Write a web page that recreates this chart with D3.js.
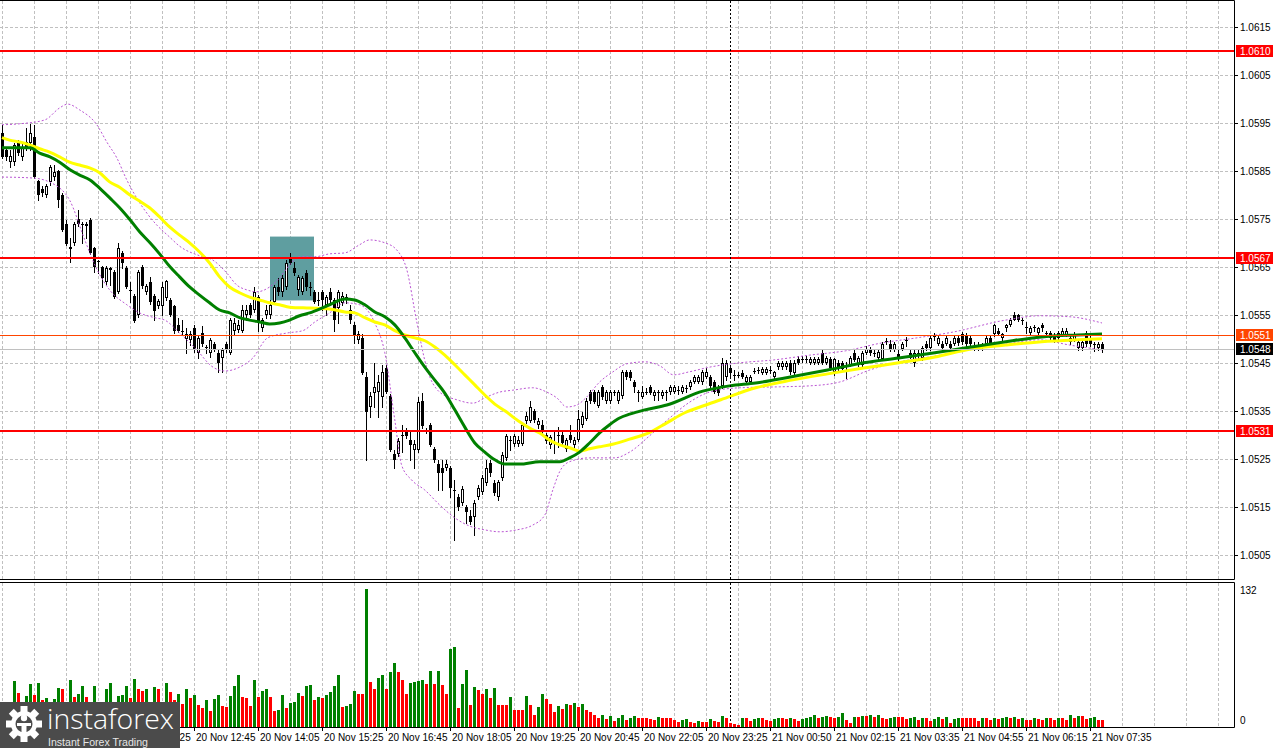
<!DOCTYPE html>
<html>
<head>
<meta charset="utf-8">
<script src="https://cdn.jsdelivr.net/npm/d3@7"></script>
<style>
  body { margin: 0; background: #fff; }
  svg { display: block; }
  text { font-family: 'Liberation Sans', Arial, sans-serif; font-size: 10px; }
</style>
</head>
<body>
<svg id="chart" width="1275" height="748"></svg>
<script>
// EURUSD M5, 20 Nov 08:45 - 21 Nov 07:45
var opens = [
  1.05930,1.05895,1.05869,1.05869,1.05909,1.05880,1.05911,1.05909,1.05922,1.05830,
  1.05813,1.05801,1.05828,1.05838,1.05851,1.05801,1.05740,1.05692,1.05701,1.05751,
  1.05740,1.05740,1.05749,1.05690,1.05663,1.05651,1.05620,1.05649,1.05640,1.05599,
  1.05680,1.05649,1.05603,1.05590,1.05551,1.05651,1.05599,1.05620,1.05590,1.05570,
  1.05570,1.05586,1.05582,1.05570,1.05530,1.05518,1.05501,1.05499,1.05524,1.05472,
  1.05513,1.05484,1.05472,1.05490,1.05472,1.05461,1.05490,1.05472,1.05518,1.05520,
  1.05518,1.05551,1.05572,1.05561,1.05588,1.05524,1.05551,1.05551,1.05578,1.05609,
  1.05599,1.05609,1.05672,1.05649,1.05603,1.05599,1.05638,1.05609,1.05599,1.05582,
  1.05599,1.05572,1.05599,1.05582,1.05565,1.05576,1.05588,1.05561,1.05530,1.05499,
  1.05503,1.05422,1.05359,1.05388,1.05390,1.05380,1.05440,1.05382,1.05261,1.05261,
  1.05301,1.05311,1.05290,1.05269,1.05269,1.05371,1.05311,1.05322,1.05272,1.05240,
  1.05232,1.05232,1.05232,1.05186,1.05172,1.05159,1.05151,1.05132,1.05130,1.05172,
  1.05182,1.05201,1.05242,1.05201,1.05172,1.05211,1.05253,1.05290,1.05282,1.05282,
  1.05282,1.05330,1.05330,1.05351,1.05322,1.05322,1.05301,1.05280,1.05286,1.05299,
  1.05301,1.05272,1.05301,1.05280,1.05290,1.05322,1.05334,1.05390,1.05390,1.05361,
  1.05401,1.05371,1.05371,1.05390,1.05371,1.05382,1.05432,1.05432,1.05411,1.05390,
  1.05380,1.05389,1.05401,1.05382,1.05390,1.05382,1.05390,1.05390,1.05390,1.05394,
  1.05390,1.05399,1.05401,1.05411,1.05411,1.05411,1.05422,1.05422,1.05411,1.05401,
  1.05403,1.05422,1.05440,1.05426,1.05426,1.05430,1.05411,1.05411,1.05434,1.05436,
  1.05430,1.05430,1.05436,1.05422,1.05443,1.05443,1.05443,1.05451,1.05430,1.05459,
  1.05459,1.05459,1.05451,1.05451,1.05451,1.05472,1.05451,1.05459,1.05432,1.05451,
  1.05451,1.05445,1.05447,1.05472,1.05447,1.05447,1.05472,1.05478,1.05472,1.05461,
  1.05459,1.05497,1.05490,1.05478,1.05470,1.05480,1.05497,1.05472,1.05451,1.05472,
  1.05461,1.05490,1.05482,1.05507,1.05490,1.05490,1.05490,1.05490,1.05490,1.05503,
  1.05511,1.05509,1.05503,1.05486,1.05486,1.05482,1.05490,1.05503,1.05511,1.05518,
  1.05503,1.05524,1.05530,1.05551,1.05551,1.05540,1.05524,1.05513,1.05524,1.05513,
  1.05530,1.05513,1.05513,1.05509,1.05503,1.05509,1.05509,1.05503,1.05499,1.05482,
  1.05482,1.05513,1.05503,1.05490,1.05482,1.05490
]
var highs = [
  1.05947,1.05901,1.05895,1.05909,1.05915,1.05909,1.05940,1.05949,1.05947,1.05832,
  1.05820,1.05824,1.05863,1.05863,1.05853,1.05805,1.05749,1.05711,1.05745,1.05770,
  1.05745,1.05745,1.05753,1.05692,1.05665,1.05653,1.05653,1.05651,1.05645,1.05701,
  1.05684,1.05653,1.05620,1.05594,1.05645,1.05655,1.05615,1.05630,1.05594,1.05584,
  1.05620,1.05624,1.05586,1.05572,1.05545,1.05540,1.05524,1.05518,1.05530,1.05507,
  1.05528,1.05488,1.05503,1.05495,1.05478,1.05482,1.05495,1.05545,1.05545,1.05540,
  1.05572,1.05572,1.05576,1.05609,1.05592,1.05545,1.05572,1.05582,1.05613,1.05628,
  1.05634,1.05665,1.05680,1.05661,1.05634,1.05632,1.05645,1.05620,1.05603,1.05599,
  1.05603,1.05592,1.05607,1.05586,1.05603,1.05599,1.05594,1.05572,1.05536,1.05518,
  1.05511,1.05432,1.05390,1.05451,1.05426,1.05447,1.05447,1.05386,1.05269,1.05294,
  1.05322,1.05315,1.05307,1.05290,1.05380,1.05388,1.05315,1.05326,1.05276,1.05249,
  1.05249,1.05249,1.05236,1.05207,1.05178,1.05194,1.05155,1.05145,1.05165,1.05196,
  1.05217,1.05249,1.05249,1.05207,1.05207,1.05265,1.05303,1.05299,1.05303,1.05299,
  1.05326,1.05349,1.05371,1.05355,1.05336,1.05332,1.05305,1.05301,1.05311,1.05317,
  1.05307,1.05294,1.05322,1.05297,1.05353,1.05349,1.05378,1.05394,1.05394,1.05394,
  1.05405,1.05394,1.05394,1.05394,1.05394,1.05436,1.05436,1.05436,1.05415,1.05394,
  1.05403,1.05399,1.05405,1.05394,1.05394,1.05394,1.05394,1.05405,1.05405,1.05403,
  1.05405,1.05405,1.05415,1.05426,1.05426,1.05436,1.05440,1.05426,1.05415,1.05405,
  1.05461,1.05457,1.05447,1.05436,1.05432,1.05436,1.05426,1.05426,1.05440,1.05443,
  1.05443,1.05443,1.05445,1.05434,1.05455,1.05455,1.05455,1.05457,1.05457,1.05465,
  1.05465,1.05465,1.05463,1.05463,1.05463,1.05478,1.05465,1.05463,1.05461,1.05457,
  1.05455,1.05453,1.05465,1.05478,1.05465,1.05476,1.05486,1.05484,1.05478,1.05478,
  1.05495,1.05503,1.05499,1.05495,1.05478,1.05495,1.05505,1.05478,1.05478,1.05480,
  1.05486,1.05497,1.05507,1.05513,1.05507,1.05497,1.05507,1.05497,1.05507,1.05509,
  1.05515,1.05513,1.05507,1.05495,1.05495,1.05492,1.05507,1.05507,1.05532,1.05524,
  1.05513,1.05532,1.05545,1.05557,1.05553,1.05545,1.05536,1.05528,1.05530,1.05526,
  1.05534,1.05518,1.05517,1.05513,1.05517,1.05524,1.05524,1.05507,1.05515,1.05499,
  1.05499,1.05518,1.05507,1.05495,1.05495,1.05495
]
var lows = [
  1.05878,1.05874,1.05859,1.05863,1.05884,1.05874,1.05895,1.05895,1.05836,1.05790,
  1.05799,1.05797,1.05822,1.05832,1.05776,1.05726,1.05697,1.05661,1.05697,1.05736,
  1.05701,1.05711,1.05678,1.05640,1.05638,1.05609,1.05615,1.05613,1.05586,1.05597,
  1.05649,1.05607,1.05578,1.05536,1.05547,1.05607,1.05594,1.05574,1.05540,1.05565,
  1.05551,1.05582,1.05549,1.05513,1.05515,1.05509,1.05472,1.05488,1.05474,1.05461,
  1.05486,1.05472,1.05463,1.05476,1.05432,1.05432,1.05474,1.05470,1.05509,1.05515,
  1.05515,1.05540,1.05547,1.05557,1.05518,1.05518,1.05545,1.05545,1.05574,1.05592,
  1.05590,1.05605,1.05657,1.05634,1.05592,1.05594,1.05603,1.05592,1.05576,1.05572,
  1.05561,1.05551,1.05578,1.05518,1.05534,1.05572,1.05576,1.05534,1.05492,1.05492,
  1.05428,1.05249,1.05338,1.05359,1.05338,1.05359,1.05388,1.05267,1.05232,1.05257,
  1.05265,1.05294,1.05249,1.05232,1.05265,1.05315,1.05305,1.05278,1.05245,1.05186,
  1.05186,1.05228,1.05172,1.05082,1.05145,1.05155,1.05117,1.05115,1.05092,1.05167,
  1.05178,1.05196,1.05215,1.05176,1.05165,1.05207,1.05249,1.05269,1.05278,1.05278,
  1.05280,1.05326,1.05328,1.05328,1.05315,1.05301,1.05284,1.05274,1.05263,1.05276,
  1.05280,1.05267,1.05286,1.05276,1.05288,1.05317,1.05332,1.05367,1.05367,1.05359,
  1.05376,1.05367,1.05367,1.05384,1.05367,1.05378,1.05417,1.05415,1.05390,1.05371,
  1.05378,1.05386,1.05386,1.05374,1.05374,1.05378,1.05374,1.05386,1.05388,1.05386,
  1.05388,1.05390,1.05397,1.05409,1.05409,1.05407,1.05419,1.05399,1.05388,1.05384,
  1.05399,1.05415,1.05419,1.05415,1.05422,1.05419,1.05407,1.05407,1.05430,1.05430,
  1.05428,1.05428,1.05430,1.05419,1.05438,1.05438,1.05438,1.05428,1.05426,1.05449,
  1.05453,1.05453,1.05449,1.05449,1.05449,1.05449,1.05449,1.05436,1.05426,1.05436,
  1.05436,1.05419,1.05445,1.05455,1.05445,1.05445,1.05470,1.05467,1.05465,1.05457,
  1.05457,1.05490,1.05476,1.05476,1.05457,1.05478,1.05486,1.05461,1.05445,1.05461,
  1.05457,1.05478,1.05478,1.05499,1.05488,1.05478,1.05488,1.05478,1.05488,1.05488,
  1.05490,1.05486,1.05486,1.05478,1.05478,1.05478,1.05488,1.05488,1.05507,1.05509,
  1.05495,1.05518,1.05528,1.05540,1.05538,1.05532,1.05513,1.05511,1.05517,1.05509,
  1.05518,1.05507,1.05499,1.05495,1.05501,1.05507,1.05507,1.05490,1.05497,1.05478,
  1.05478,1.05486,1.05486,1.05476,1.05478,1.05474
]
var closes = [
  1.05880,1.05880,1.05882,1.05905,1.05888,1.05899,1.05899,1.05930,1.05838,1.05801,
  1.05805,1.05820,1.05859,1.05849,1.05790,1.05728,1.05699,1.05688,1.05740,1.05740,
  1.05738,1.05736,1.05680,1.05651,1.05661,1.05628,1.05649,1.05645,1.05588,1.05690,
  1.05659,1.05609,1.05601,1.05538,1.05640,1.05611,1.05611,1.05578,1.05559,1.05580,
  1.05609,1.05622,1.05551,1.05518,1.05518,1.05516,1.05511,1.05511,1.05478,1.05503,
  1.05490,1.05482,1.05499,1.05480,1.05451,1.05478,1.05478,1.05540,1.05534,1.05530,
  1.05561,1.05561,1.05551,1.05599,1.05534,1.05540,1.05561,1.05572,1.05609,1.05599,
  1.05628,1.05659,1.05659,1.05638,1.05630,1.05628,1.05609,1.05607,1.05578,1.05581,
  1.05582,1.05588,1.05582,1.05540,1.05599,1.05590,1.05584,1.05540,1.05509,1.05511,
  1.05430,1.05349,1.05382,1.05401,1.05411,1.05432,1.05390,1.05269,1.05249,1.05288,
  1.05299,1.05299,1.05280,1.05282,1.05369,1.05320,1.05309,1.05280,1.05249,1.05222,
  1.05222,1.05240,1.05190,1.05184,1.05151,1.05188,1.05140,1.05119,1.05159,1.05190,
  1.05211,1.05232,1.05222,1.05180,1.05203,1.05259,1.05299,1.05288,1.05299,1.05290,
  1.05322,1.05340,1.05359,1.05332,1.05330,1.05309,1.05288,1.05297,1.05284,1.05301,
  1.05284,1.05290,1.05290,1.05290,1.05334,1.05340,1.05371,1.05371,1.05369,1.05390,
  1.05380,1.05390,1.05390,1.05388,1.05390,1.05432,1.05422,1.05419,1.05401,1.05388,
  1.05390,1.05391,1.05388,1.05390,1.05388,1.05390,1.05388,1.05401,1.05401,1.05393,
  1.05401,1.05397,1.05411,1.05422,1.05422,1.05432,1.05432,1.05403,1.05390,1.05388,
  1.05451,1.05451,1.05430,1.05424,1.05425,1.05422,1.05422,1.05422,1.05432,1.05435,
  1.05438,1.05438,1.05435,1.05432,1.05451,1.05451,1.05451,1.05432,1.05451,1.05451,
  1.05458,1.05458,1.05459,1.05459,1.05459,1.05451,1.05461,1.05440,1.05459,1.05440,
  1.05438,1.05447,1.05461,1.05457,1.05461,1.05472,1.05480,1.05472,1.05471,1.05474,
  1.05490,1.05496,1.05478,1.05490,1.05461,1.05490,1.05499,1.05462,1.05472,1.05471,
  1.05482,1.05482,1.05503,1.05506,1.05503,1.05482,1.05503,1.05482,1.05503,1.05492,
  1.05495,1.05490,1.05490,1.05485,1.05485,1.05490,1.05503,1.05492,1.05530,1.05511,
  1.05511,1.05530,1.05540,1.05540,1.05540,1.05541,1.05525,1.05524,1.05525,1.05524,
  1.05524,1.05514,1.05503,1.05499,1.05513,1.05518,1.05518,1.05495,1.05511,1.05495,
  1.05495,1.05490,1.05490,1.05489,1.05490,1.05480
]
var volumes = [
  22,18,24,44,32,22,29,41,30,42, 25,27,20,26,37,36,22,45,28,31,
  39,28,20,39,18,20,36,42,22,29, 30,39,27,46,36,34,36,22,38,36,
  22,42,33,25,31,22,36,27,30,21, 18,25,15,26,30,20,19,29,39,49,
  28,27,20,45,28,34,36,28,15,16, 30,18,23,24,32,29,39,40,25,28,
  27,30,33,39,49,19,20,22,34,31, 31,132,43,36,47,49,36,52,61,52,
  45,31,42,43,44,45,41,53,41,53, 40,31,74,76,18,41,54,21,38,35,
  31,36,27,37,21,21,21,28,16,16, 16,29,21,11,19,31,26,22,14,20,
  17,22,21,23,19,22,16,14,11,8, 11,7,10,5,8,11,6,8,10,8,
  8,8,7,6,9,8,8,8,6,4, 6,7,4,3,5,4,4,7,5,4,
  10,8,3,2,1,8,8,5,7,8, 8,6,5,7,8,8,7,8,7,5,
  7,8,9,11,8,9,10,9,8,9, 13,6,3,9,9,10,10,11,9,11,
  8,7,8,9,9,9,7,8,9,6, 8,8,5,7,9,7,9,3,7,8,
  8,8,8,8,5,8,8,6,8,7, 8,9,8,9,7,8,6,6,8,7,
  6,8,8,6,8,8,6,11,8,10, 10,7,8,9,6,6
]

// moving averages and bollinger bands: [bar index, price]
var maFast = [
  [0,1.05899],[7,1.05899],[9.4,1.05888],[12,1.05880],[14.4,1.05869],[17,1.05853],[19.4,1.05842],
  [22,1.05832],[24.4,1.05815],[27,1.05794],[29.4,1.05774],[32,1.05749],[34.4,1.05724],[37,1.05701],
  [39.4,1.05678],[42,1.05651],[44.4,1.05630],[46.9,1.05609],[49.4,1.05592],[51.9,1.05576],
  [54.4,1.05561],[56.9,1.05555],[59.4,1.05545],[61.9,1.05540],[64.4,1.05536],[66.9,1.05532],
  [69.4,1.05534],[71.9,1.05540],[74.4,1.05549],[76.9,1.05555],[79.4,1.05563],[81.9,1.05572],
  [85.7,1.05584],[88.2,1.05582],[90.7,1.05572],[93.2,1.05557],[95.7,1.05547],[98.2,1.05530],
  [100.7,1.05503],[103.2,1.05472],[105.7,1.05442],[108.2,1.05415],[110.7,1.05388],[113.2,1.05353],
  [115.7,1.05317],[118.2,1.05284],[120.7,1.05265],[123.2,1.05249],[125.7,1.05240],[129.4,1.05240],
  [134.4,1.05245],[139.4,1.05245],[141.9,1.05253],[144.4,1.05265],[146.9,1.05284],[149.4,1.05305],
  [151.9,1.05322],[154.4,1.05336],[156.9,1.05344],[160.7,1.05353],[166.2,1.05363],[175.2,1.05392],
  [181.9,1.05403],[188.4,1.05409],[197.4,1.05422],[206.4,1.05436],[215.4,1.05451],[224.2,1.05461],
  [233.2,1.05472],[242.2,1.05484],[250.9,1.05495],[259.9,1.05505],[268.9,1.05509],[275,1.05511]
]
var maSlow = [
  [0,1.05920],[1.9,1.05915],[4.4,1.05911],[6.9,1.05905],[9.4,1.05897],[11.9,1.05890],[14.4,1.05880],
  [16.9,1.05869],[19.4,1.05863],[21.9,1.05857],[24.4,1.05847],[26.9,1.05828],[29.4,1.05817],
  [31.9,1.05801],[34.4,1.05788],[36.9,1.05774],[39.4,1.05755],[41.9,1.05734],[44.4,1.05717],
  [46.9,1.05701],[49.4,1.05682],[51.9,1.05659],[54.4,1.05630],[56.9,1.05609],[59.4,1.05597],
  [61.9,1.05588],[64.4,1.05582],[66.9,1.05576],[69.4,1.05572],[71.9,1.05567],[76.9,1.05565],
  [81.9,1.05563],[85.7,1.05557],[88.2,1.05555],[90.7,1.05545],[93.2,1.05536],[95.7,1.05530],
  [98.2,1.05518],[100.7,1.05509],[103.2,1.05503],[105.7,1.05497],[108.2,1.05484],[110.7,1.05467],
  [113.2,1.05447],[115.7,1.05426],[118.2,1.05405],[120.7,1.05384],[123.2,1.05365],[125.7,1.05351],
  [129.4,1.05328],[131.9,1.05315],[134.4,1.05305],[136.9,1.05290],[139.4,1.05280],[141.9,1.05274],
  [144.4,1.05267],[146.9,1.05272],[149.4,1.05276],[152.9,1.05282],[156.9,1.05292],[161.7,1.05305],
  [166.2,1.05326],[170.7,1.05347],[175.2,1.05361],[179.7,1.05374],[188.4,1.05399],[197.4,1.05415],
  [206.4,1.05428],[215.4,1.05440],[224.2,1.05451],[233.2,1.05463],[242.2,1.05480],[250.9,1.05488],
  [259.9,1.05495],[268.9,1.05499],[275,1.05501]
]
var bandUpper = [
  [0,1.05947],[4.4,1.05949],[10.7,1.05957],[14.4,1.05982],[16.4,1.05990],[19.4,1.05978],[23.7,1.05947],
  [26.2,1.05911],[28.7,1.05878],[31.2,1.05832],[33.7,1.05794],[36.2,1.05763],[38.7,1.05738],
  [41.9,1.05713],[44.4,1.05694],[49.4,1.05674],[52.7,1.05665],[56.2,1.05638],[58.7,1.05613],
  [61.2,1.05603],[63.7,1.05599],[66.9,1.05609],[69.4,1.05628],[71.9,1.05655],[74.4,1.05672],
  [78.2,1.05672],[81.9,1.05678],[85.7,1.05680],[89.4,1.05697],[91.9,1.05707],[95.7,1.05701],
  [98.7,1.05686],[101.2,1.05645],[103.7,1.05536],[106.2,1.05440],[109.4,1.05390],[113.7,1.05374],
  [117.7,1.05367],[121.2,1.05380],[124.4,1.05390],[127.7,1.05394],[132.7,1.05399],[136.2,1.05390],
  [138.7,1.05378],[141.2,1.05359],[143.7,1.05363],[146.2,1.05380],[149.4,1.05411],[152.7,1.05432],
  [156.2,1.05449],[160.9,1.05453],[164.4,1.05445],[167.9,1.05426],[171.7,1.05432],[176.9,1.05442],
  [184.4,1.05451],[192.9,1.05457],[201.9,1.05467],[210.9,1.05476],[219.7,1.05492],[228.7,1.05503],
  [237.7,1.05515],[250.9,1.05540],[259.4,1.05549],[266.9,1.05547],[275,1.05534]
]
var bandLower = [
  [0,1.05838],[7.7,1.05836],[13.2,1.05822],[16.9,1.05790],[20.7,1.05707],[23.2,1.05655],[26.9,1.05603],
  [31.2,1.05572],[34.4,1.05555],[38.2,1.05545],[40.7,1.05540],[44.4,1.05513],[48.7,1.05478],
  [52.4,1.05444],[55.7,1.05434],[59.4,1.05442],[62.7,1.05461],[66.4,1.05503],[71.2,1.05513],
  [75.2,1.05518],[78.2,1.05536],[81.9,1.05555],[85.7,1.05576],[89.4,1.05572],[93.2,1.05534],
  [95.7,1.05472],[98.2,1.05332],[99.9,1.05238],[102.4,1.05207],[105.7,1.05186],[109.4,1.05155],
  [113.2,1.05128],[116.9,1.05111],[120.7,1.05103],[124.4,1.05099],[128.7,1.05103],[132.7,1.05113],
  [135.7,1.05134],[137.7,1.05186],[139.4,1.05224],[141.9,1.05245],[146.9,1.05253],[153.2,1.05253],
  [156.9,1.05265],[161.9,1.05299],[166.9,1.05336],[171.9,1.05369],[176.9,1.05390],[184.4,1.05399],
  [194.4,1.05401],[201.9,1.05403],[209.4,1.05411],[216.9,1.05436],[224.4,1.05453],[233.2,1.05465],
  [241.9,1.05478],[250.9,1.05490],[259.4,1.05499],[266.9,1.05488],[275,1.05478]
]

var priceTicks = [1.0505,1.0515,1.0525,1.0535,1.0545,1.0555,1.0565,1.0575,1.0585,1.0595,1.0605,1.0615]
var resistanceLevels = [1.0610, 1.0567, 1.0531]
var markerLevel = 1.0551
var lastPrice = 1.0548
var signalBox = {from: 67, to: 78, top: 1.05714, bottom: 1.05581}
var separatorBar = 182
// the 08:45 and 10:05 labels sit fully under the broker logo
var timeLabels = ['20 Nov 11:25','20 Nov 12:45','20 Nov 14:05',
  '20 Nov 15:25','20 Nov 16:45','20 Nov 18:05','20 Nov 19:25','20 Nov 20:45','20 Nov 22:05',
  '20 Nov 23:25','21 Nov 00:50','21 Nov 02:15','21 Nov 03:35','21 Nov 04:55','21 Nov 06:15','21 Nov 07:35']
var firstLabelBar = 32, barsPerLabel = 16

var svg = d3.select('#chart')
var plotR = 1234, mainB = 579, volT = 582, volB = 727

var x = d3.scaleLinear().domain([0, 308]).range([2, 1234])
var y = d3.scaleLinear().domain([1.0505, 1.0615]).range([555.3, 27.3])
var yv = d3.scaleLinear().domain([0, d3.max(volumes)]).range([726.5, 589])

var bars = closes.map((c, i) => ({i, o: opens[i], h: highs[i], l: lows[i], c, v: volumes[i]}))

var defs = svg.append('defs')
defs.append('clipPath').attr('id', 'clipMain')
  .append('rect').attr('x', 0).attr('y', 0).attr('width', plotR).attr('height', mainB)
defs.append('clipPath').attr('id', 'clipAxis')
  .append('rect').attr('x', 180).attr('y', volB).attr('width', 1095).attr('height', 21)

// grid
var gridSel = svg.append('g').attr('stroke', '#c0c0c0').attr('stroke-dasharray', '3,2')
gridSel.selectAll('line.h').data(priceTicks).join('line').attr('class', 'h')
  .attr('x1', 0).attr('x2', plotR)
  .attr('y1', d => Math.round(y(d)) + .5).attr('y2', d => Math.round(y(d)) + .5)
var gridBars = d3.range(0, 308, 8)
gridSel.selectAll('line.vm').data(gridBars).join('line').attr('class', 'vm')
  .attr('x1', d => x(d) + .5).attr('x2', d => x(d) + .5).attr('y1', 1).attr('y2', mainB)
gridSel.selectAll('line.vv').data(gridBars).join('line').attr('class', 'vv')
  .attr('x1', d => x(d) + .5).attr('x2', d => x(d) + .5).attr('y1', volT + 1).attr('y2', volB)

var main = svg.append('g').attr('clip-path', 'url(#clipMain)')

main.append('rect')
  .attr('x', x(signalBox.from)).attr('width', x(signalBox.to) - x(signalBox.from))
  .attr('y', y(signalBox.top)).attr('height', y(signalBox.bottom) - y(signalBox.top))
  .attr('fill', '#5f9ea0')

// period separator
svg.selectAll('line.sep').data([[1, mainB], [volT + 1, volB]]).join('line').attr('class', 'sep')
  .attr('x1', x(separatorBar) + .5).attr('x2', x(separatorBar) + .5)
  .attr('y1', d => d[0]).attr('y2', d => d[1])
  .attr('stroke', '#000').attr('stroke-dasharray', '2,2')

// candles
var candleSel = main.append('g')
candleSel.selectAll('line').data(bars).join('line')
  .attr('x1', d => x(d.i) + .5).attr('x2', d => x(d.i) + .5)
  .attr('y1', d => Math.round(y(d.h))).attr('y2', d => Math.round(y(d.l)) + 1)
  .attr('stroke', '#000')
candleSel.selectAll('rect').data(bars).join('rect')
  .each(function(d){
    var top = Math.round(y(Math.max(d.o, d.c))), bot = Math.round(y(Math.min(d.o, d.c)))
    var h = Math.max(1, bot - top)
    var sel = d3.select(this)
    if (d.c > d.o && h >= 2){
      sel.attr('x', x(d.i) - .5).attr('y', top + .5).attr('width', 2).attr('height', h - 1)
        .attr('fill', '#fff').attr('stroke', '#000')
    } else {
      sel.attr('x', x(d.i) - 1).attr('y', top).attr('width', 3).attr('height', h).attr('fill', '#000')
    }
  })

// bands + averages
var line = d3.line().x(d => x(d[0])).y(d => y(d[1])).curve(d3.curveMonotoneX)
main.selectAll('path.band').data([bandUpper, bandLower]).join('path').attr('class', 'band')
  .attr('d', line).attr('fill', 'none').attr('stroke', '#ba55d3').attr('stroke-dasharray', '2,2')
main.append('path').attr('d', line(maSlow)).attr('fill', 'none').attr('stroke', '#ffff00').attr('stroke-width', 3)
main.append('path').attr('d', line(maFast)).attr('fill', 'none').attr('stroke', '#008000').attr('stroke-width', 3)

// horizontal levels
main.selectAll('line.lvl').data(resistanceLevels).join('line').attr('class', 'lvl')
  .attr('x1', 0).attr('x2', plotR).attr('y1', d => Math.round(y(d))).attr('y2', d => Math.round(y(d)))
  .attr('stroke', '#ff0000').attr('stroke-width', 2)
main.append('line').attr('x1', 0).attr('x2', plotR)
  .attr('y1', Math.round(y(markerLevel)) + .5).attr('y2', Math.round(y(markerLevel)) + .5)
  .attr('stroke', '#ff4500')
main.append('line').attr('x1', 0).attr('x2', plotR)
  .attr('y1', Math.round(y(lastPrice)) + .5).attr('y2', Math.round(y(lastPrice)) + .5)
  .attr('stroke', '#c0c0c0')

// volumes
svg.append('g').selectAll('rect').data(bars).join('rect')
  .attr('x', d => x(d.i) - 1).attr('width', 3)
  .attr('y', d => Math.round(yv(d.v))).attr('height', d => Math.round(yv(0)) - Math.round(yv(d.v)))
  .attr('fill', (d, i) => i > 0 && d.v > volumes[i - 1] ? '#008000' : '#ff0000')

// frames
var frame = svg.append('g').attr('stroke', '#000').attr('fill', 'none')
frame.append('path').attr('d', `M0,0.5H${plotR + .5}V${mainB + .5}H0`)
frame.append('path').attr('d', `M0,${volT + .5}H${plotR + .5}V${volB + .5}H0`)

// price axis
var axisSel = svg.append('g')
axisSel.selectAll('line').data(priceTicks).join('line')
  .attr('x1', plotR + 1).attr('x2', plotR + 4)
  .attr('y1', d => Math.round(y(d)) + .5).attr('y2', d => Math.round(y(d)) + .5).attr('stroke', '#000')
axisSel.selectAll('text').data(priceTicks).join('text')
  .attr('x', 1240).attr('y', d => y(d) + 3.5).text(d => d.toFixed(4))

var tags = [].concat(
  resistanceLevels.map(p => ({p, fill: '#ff0000'})),
  [{p: markerLevel, fill: '#ff4500'}, {p: lastPrice, fill: '#000'}])
var tagSel = svg.selectAll('g.tag').data(tags).join('g').attr('class', 'tag')
  .attr('transform', d => `translate(0,${Math.round(y(d.p))})`)
tagSel.append('rect').attr('x', plotR + 2).attr('y', -6).attr('width', 37).attr('height', 12).attr('fill', d => d.fill)
tagSel.append('text').attr('x', 1240).attr('y', 3.5).attr('fill', '#fff').text(d => d.p.toFixed(4))

svg.append('text').attr('x', 1240).attr('y', 594).text(d3.max(volumes))
svg.append('text').attr('x', 1240).attr('y', 724).text(0)

// time axis
var labelX = k => x(firstLabelBar + k * barsPerLabel)
var timeSel = svg.append('g')
timeSel.selectAll('line').data(timeLabels).join('line')
  .attr('x1', (d, k) => labelX(k) + .5).attr('x2', (d, k) => labelX(k) + .5)
  .attr('y1', volB).attr('y2', volB + 4).attr('stroke', '#000')
timeSel.selectAll('text').data(timeLabels).join('text')
  .attr('x', (d, k) => labelX(k) + 2).attr('y', 741).text(d => d)
  .attr('clip-path', (d, k) => k == 0 ? 'url(#clipAxis)' : null)

// logo
var logo = svg.append('g')
logo.append('rect').attr('x', 0).attr('y', 702).attr('width', 180).attr('height', 46).attr('fill', '#4b4b4b')
var gear = logo.append('g').attr('transform', 'translate(24,724)')
gear.selectAll('rect').data(d3.range(8)).join('rect')
  .attr('x', -3.5).attr('y', -18).attr('width', 7).attr('height', 8).attr('fill', '#fff')
  .attr('transform', d => `rotate(${d * 45})`)
gear.append('circle').attr('r', 13).attr('fill', '#fff')
gear.append('circle').attr('r', 8.5).attr('fill', '#4b4b4b')
gear.append('circle').attr('cy', -6).attr('r', 3.2).attr('fill', '#fff')
gear.append('path').attr('d', 'M-7,-1H7V2H2.5V12H-2.5V2H-7Z').attr('fill', '#fff')
logo.append('text').attr('x', 47).attr('y', 729).attr('fill', '#fff')
  .attr('textLength', 127).attr('lengthAdjust', 'spacingAndGlyphs')
  .style('font-family', "'Open Sans', sans-serif").style('font-size', '27px').style('font-weight', 300)
  .text('instaforex')
logo.append('text').attr('x', 48).attr('y', 746).attr('fill', '#e6e6e6')
  .attr('textLength', 100).attr('lengthAdjust', 'spacingAndGlyphs')
  .style('font-size', '10px').text('Instant Forex Trading')
</script>
</body>
</html>
